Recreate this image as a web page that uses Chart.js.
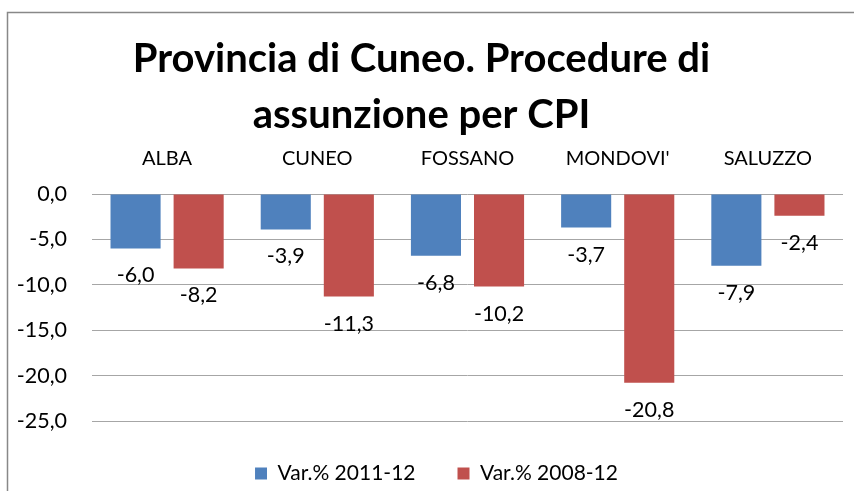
<!DOCTYPE html>
<html>
<head>
<meta charset="utf-8">
<script src="https://cdn.jsdelivr.net/npm/chart.js@4/dist/chart.umd.min.js"></script>
<style>
  html, body { margin: 0; padding: 0; background: #ffffff; }
  #wrap { width: 854px; height: 491px; position: relative; }
</style>
</head>
<body>
<div id="wrap"><canvas id="c" width="854" height="491"></canvas></div>
<script>
const categories = ["ALBA", "CUNEO", "FOSSANO", "MONDOVI'", "SALUZZO"];
const var2011_12 = [-6.0, -3.9, -6.8, -3.7, -7.9];
const var2008_12 = [-8.2, -11.3, -10.2, -20.8, -2.4];
const seriesNames = ["Var.% 2011-12", "Var.% 2008-12"];
const yTicks = [0, -5, -10, -15, -20, -25];
const titleLines = ["Provincia di Cuneo. Procedure di", "assunzione per CPI"];

const FONT = "Lato";
const fmt = v => Number(v).toFixed(1).replace('.', ',');

const borderPlugin = {
  id: 'frameBorder',
  beforeDraw(chart) {
    const ctx = chart.ctx;
    ctx.save();
    ctx.strokeStyle = '#888888';
    ctx.lineWidth = 1.5;
    ctx.strokeRect(7.5, 12.5, 1000, 1000);
    ctx.restore();
  }
};

const valueLabels = {
  id: 'valueLabels',
  afterDatasetsDraw(chart) {
    const ctx = chart.ctx;
    ctx.save();
    ctx.font = `21.5px ${FONT}`;
    ctx.fillStyle = '#000000';
    ctx.textAlign = 'center';
    ctx.textBaseline = 'middle';
    chart.data.datasets.forEach((ds, di) => {
      const meta = chart.getDatasetMeta(di);
      meta.data.forEach((bar, i) => {
        ctx.fillText(fmt(ds.data[i]), bar.x, bar.y + 27);
      });
    });
    ctx.restore();
  }
};

const legendTweak = {
  id: 'legendTweak',
  afterInit(chart) {
    const lg = chart.legend;
    if (lg && !lg._patched) {
      const origFit = lg.fit.bind(lg);
      lg.fit = function () { origFit(); this.height = 70; };
      lg._patched = true;
    }
  },
  afterLayout(chart) {
    const lg = chart.legend;
    if (lg) { lg.left += 15; lg.right += 15; }
  }
};

new Chart(document.getElementById('c'), {
  type: 'bar',
  data: {
    labels: categories,
    datasets: [
      { label: seriesNames[0], data: var2011_12, backgroundColor: '#4F81BD', categoryPercentage: 0.84, barPercentage: 0.794 },
      { label: seriesNames[1], data: var2008_12, backgroundColor: '#C0504D', categoryPercentage: 0.84, barPercentage: 0.794 }
    ]
  },
  options: {
    responsive: false,
    animation: false,
    devicePixelRatio: 1,
    layout: { padding: { left: 0, right: 11, top: 0, bottom: 0 } },
    plugins: {
      title: {
        display: true,
        text: titleLines,
        color: '#000000',
        font: { family: FONT, size: 40, weight: 'bold', lineHeight: 1.4 },
        padding: { top: 31, bottom: 0 }
      },
      legend: {
        display: true,
        position: 'bottom',
        labels: {
          boxWidth: 12,
          boxHeight: 12,
          padding: 42,
          color: '#000000',
          font: { family: FONT, size: 21 }
        }
      },
      tooltip: { enabled: false }
    },
    scales: {
      x: {
        position: 'top',
        grid: { display: false, drawTicks: false },
        border: { display: false },
        ticks: { color: '#000000', font: { family: FONT, size: 20 }, padding: 23, maxRotation: 0 },
        afterFit(s) { s.height = 51; }
      },
      y: {
        min: Math.min(...yTicks),
        max: Math.max(...yTicks),
        afterBuildTicks(s) { s.ticks = yTicks.map(v => ({ value: v })); },
        grid: { color: '#a6a6a6', lineWidth: 1, drawTicks: false },
        border: { display: false },
        ticks: { color: '#000000', font: { family: FONT, size: 21.5 }, padding: 25, callback: v => fmt(v) },
        afterFit(s) { s.width = 92; }
      }
    }
  },
  plugins: [borderPlugin, valueLabels, legendTweak]
});
</script>
</body>
</html>
